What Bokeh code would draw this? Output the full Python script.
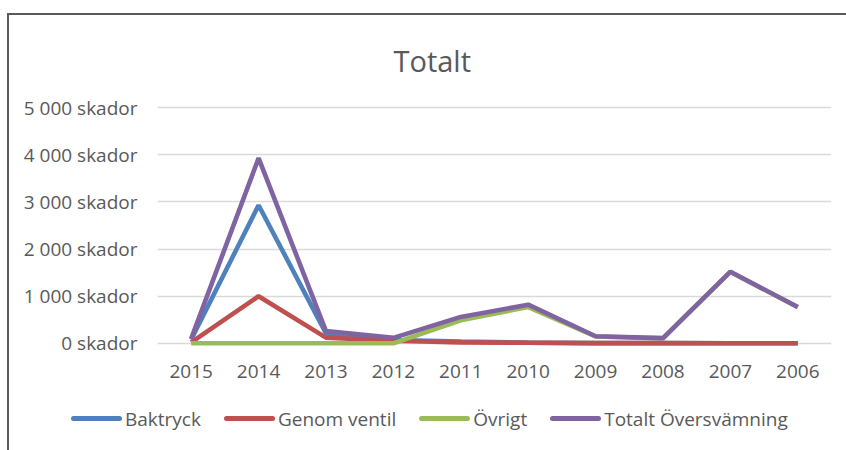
from bokeh.plotting import figure
from bokeh.layouts import column
from bokeh.models import Range1d, FixedTicker, Div
from bokeh.embed import file_html
from bokeh.resources import INLINE

years = ["2015", "2014", "2013", "2012", "2011", "2010", "2009", "2008", "2007", "2006"]
baktryck = [80, 2930, 210, 70, 40, 15, 5, 3, 2, 2]
genom_ventil = [20, 1000, 120, 55, 20, 12, 5, 3, 2, 2]
ovrigt = [0, 0, 0, 0, 490, 770, 145, 105, 1515, 765]
totalt = [100, 3930, 260, 115, 560, 820, 150, 110, 1520, 770]

series_names = ["Baktryck", "Genom ventil", "Övrigt", "Totalt Översvämning"]
series_colors = ["#4F81BD", "#C0504D", "#9BBB59", "#8064A2"]

y_ticks = [0, 1000, 2000, 3000, 4000, 5000]
y_tick_labels = ["0 skador", "1 000 skador", "2 000 skador", "3 000 skador", "4 000 skador", "5 000 skador"]

FONT = "Open Sans"
TXT = "#595959"
W = 837

p = figure(x_range=years, y_range=Range1d(-110, 5110), width=W, height=375,
           output_backend="svg", toolbar_location=None, title="Totalt")

p.min_border_left = 148
p.min_border_right = 15
p.min_border_top = 86
p.min_border_bottom = 42
p.outline_line_color = None
p.background_fill_color = "white"
p.border_fill_color = "white"

p.title.text_font = FONT
p.title.text_font_size = "29px"
p.title.text_font_style = "normal"
p.title.text_color = TXT
p.title.align = "left"
p.title.offset = 236
p.title.standoff = 46

for vals, col, name in zip([baktryck, genom_ventil, ovrigt, totalt], series_colors, series_names):
    p.line(years, vals, line_color=col, line_width=4.6, name=name)

p.xgrid.grid_line_color = None
p.ygrid.grid_line_color = "#d9d9d9"
p.ygrid.grid_line_width = 1.3
p.ygrid.ticker = FixedTicker(ticks=y_ticks)

ya = p.yaxis[0]
ya.ticker = FixedTicker(ticks=y_ticks)
ya.major_label_overrides = {t: l for t, l in zip(y_ticks, y_tick_labels)}
ya.axis_line_color = None
ya.major_tick_line_color = None
ya.minor_tick_line_color = None
ya.major_label_standoff = 14
ya.major_label_text_font = FONT
ya.major_label_text_font_size = "19px"
ya.major_label_text_color = TXT

xa = p.xaxis[0]
xa.axis_line_color = None
xa.major_tick_line_color = None
xa.minor_tick_line_color = None
xa.major_label_standoff = 10
xa.major_label_text_font = FONT
xa.major_label_text_font_size = "19px"
xa.major_label_text_color = TXT

# legend strip below the chart
items = []
for i, (n, c) in enumerate(zip(series_names, series_colors)):
    gap = "" if i == 0 else '<span style="display:inline-block;width:23px"></span>'
    items.append(gap + f'<span style="display:inline-block;width:51px;height:5px;border-radius:2.5px;'
                       f'background:{c};margin-right:3px;vertical-align:middle"></span>'
                       f'<span style="vertical-align:middle">{n}</span>')
legend_html = (f'<div style="position:relative;top:9px;padding-left:57px;white-space:nowrap;'
               f"font-family:'{FONT}';font-size:19px;line-height:26px;color:{TXT}\">"
               + "".join(items) + "</div>")
legend_div = Div(text=legend_html, width=W, height=55)

layout = column(p, legend_div, spacing=0,
                styles={"margin-top": "13px", "margin-left": "7px",
                        "border-top": "2px solid #595959", "border-left": "2px solid #595959"})

open("out.html", "w").write(file_html(layout, INLINE))
